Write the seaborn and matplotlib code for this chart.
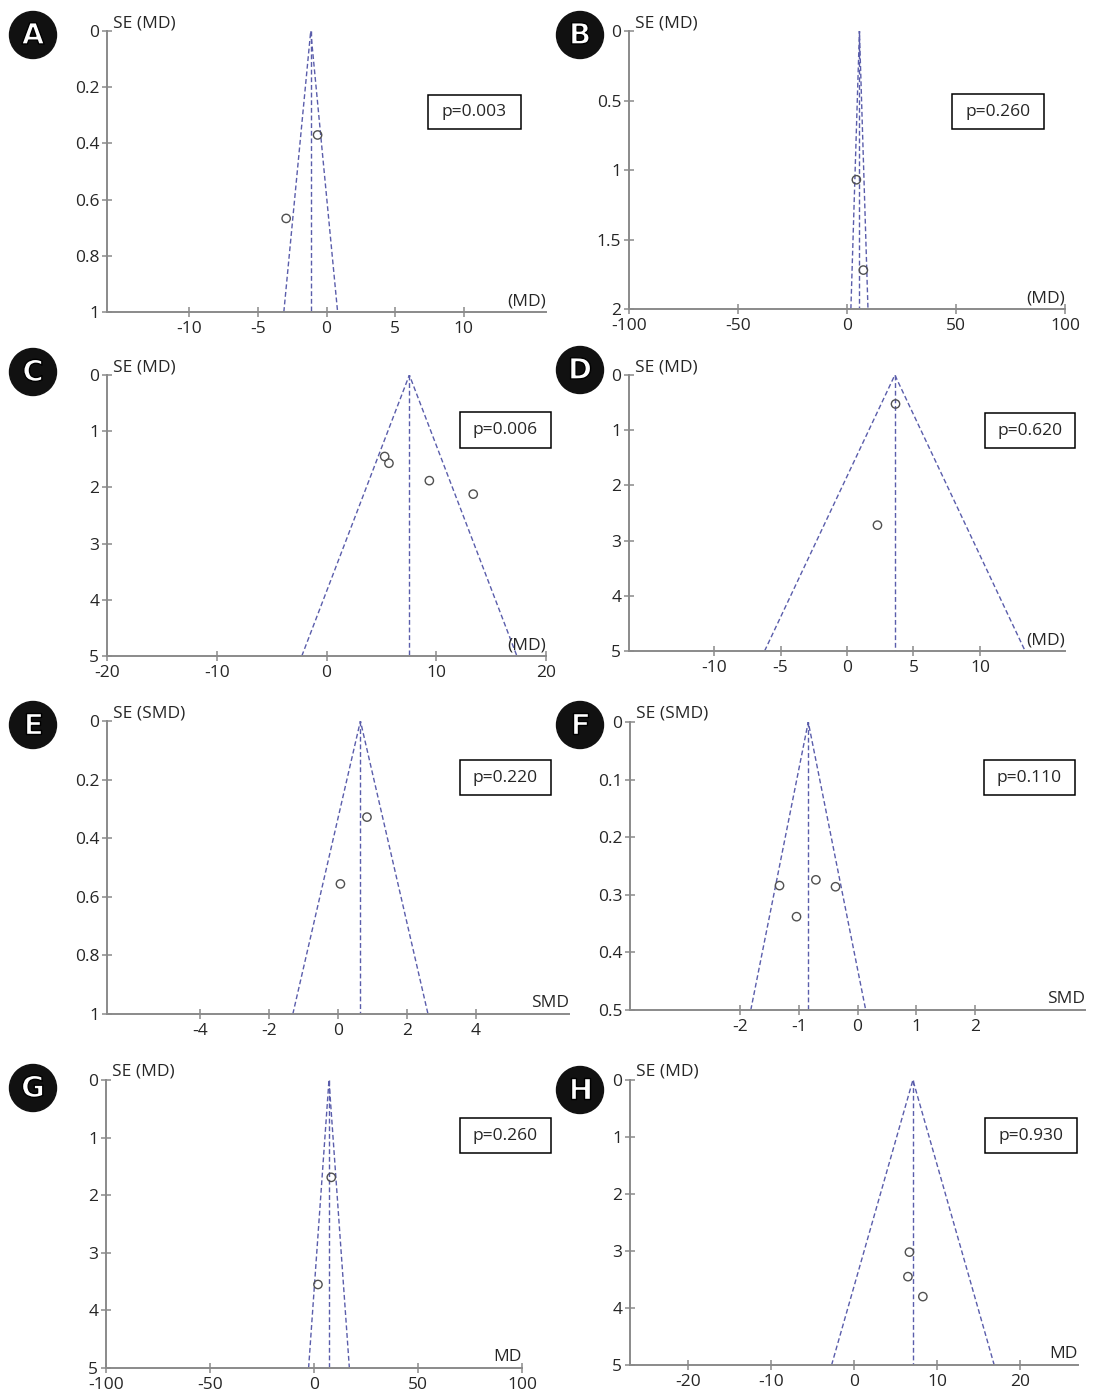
import numpy as np
import matplotlib
matplotlib.use("Agg")
import matplotlib.pyplot as plt
import matplotlib.patheffects as pe
from matplotlib.patches import Rectangle, Ellipse
import seaborn as sns

sns.set_theme(style="white")
plt.rcParams['font.family'] = ['Open Sans', 'DejaVu Sans']
plt.rcParams['axes.unicode_minus'] = False

W, H = 1093, 1396

# panel texts
panels = ['A', 'B', 'C', 'D', 'E', 'F', 'G', 'H']
y_labels = ['SE (MD)'] * 4 + ['SE (SMD)'] * 2 + ['SE (MD)'] * 2
x_labels = ['(MD)', '(MD)', '(MD)', '(MD)', 'SMD', 'SMD', 'MD', 'MD']
p_values = ['p=0.003', 'p=0.260', 'p=0.006', 'p=0.620',
            'p=0.220', 'p=0.110', 'p=0.260', 'p=0.930']

# pooled estimate and max SE of each funnel
pooled = [-1.15, 5.7, 7.55, 3.6, 0.65, -0.84, 7.2, 7.1]
se_max = [1, 2, 5, 5, 1, 0.5, 5, 5]

# study estimates (effect, SE)
effects = [
    [-0.65, -2.94],
    [4.3, 7.5],
    [5.3, 5.69, 9.37, 13.37],
    [3.65, 2.29],
    [0.84, 0.07],
    [-1.33, -0.71, -0.375, -1.04],
    [8.3, 1.9],
    [6.68, 6.5, 8.3],
]
ses = [
    [0.37, 0.667],
    [1.07, 1.72],
    [1.45, 1.57, 1.88, 2.12],
    [0.525, 2.72],
    [0.328, 0.556],
    [0.284, 0.274, 0.286, 0.338],
    [1.69, 3.55],
    [3.02, 3.45, 3.8],
]

# axis scales
x_limits = [(-16, 16), (-100, 100), (-20, 20), (-16.4, 16.4),
            (-6.7, 6.7), (-3.88, 3.88), (-100, 100), (-27, 27)]
x_ticks = [[-10, -5, 0, 5, 10], [-100, -50, 0, 50, 100], [-20, -10, 0, 10, 20],
           [-10, -5, 0, 5, 10], [-4, -2, 0, 2, 4], [-2, -1, 0, 1, 2],
           [-100, -50, 0, 50, 100], [-20, -10, 0, 10, 20]]
y_ticks = [[0, 0.2, 0.4, 0.6, 0.8, 1], [0, 0.5, 1, 1.5, 2], [0, 1, 2, 3, 4, 5],
           [0, 1, 2, 3, 4, 5], [0, 0.2, 0.4, 0.6, 0.8, 1],
           [0, 0.1, 0.2, 0.3, 0.4, 0.5], [0, 1, 2, 3, 4, 5], [0, 1, 2, 3, 4, 5]]

# layout in pixels: axes (left, right, top, bottom), p-box, badge centre
axes_px = [(107, 546, 31, 312), (629, 1065, 31, 309),
           (107, 546, 375, 656), (629, 1065, 375, 651),
           (107, 569, 721, 1014), (630, 1085, 722, 1010),
           (106, 522, 1080, 1368), (630, 1078, 1080, 1365)]
pbox_px = [(428, 521, 95, 129), (952, 1044, 94, 129),
           (460, 551, 412, 448), (985, 1075, 413, 448),
           (460, 551, 760, 795), (984, 1075, 760, 795),
           (460, 551, 1118, 1153), (985, 1077, 1118, 1153)]
badge_px = [(33, 35), (580, 35), (33, 372), (580, 370),
            (33, 725), (580, 725), (33, 1088), (580, 1090)]

funnel_color = '#5a5dab'
spine_color = '#8a8a8a'
text_color = '#262626'

fig = plt.figure(figsize=(W / 100, H / 100), dpi=100)
fig.patch.set_facecolor('white')

for i in range(8):
    l, r, t, b = axes_px[i]
    ax = fig.add_axes([l / W, 1 - b / H, (r - l) / W, (b - t) / H])
    ax.set_facecolor('white')

    c, m = pooled[i], se_max[i]
    half = 1.96 * m
    ax.plot([c - half, c, c + half], [m, 0, m], color=funnel_color,
            lw=1.0, ls=(0, (3.5, 2)))
    ax.plot([c, c], [0, m], color=funnel_color, lw=1.0, ls=(0, (3.5, 2)))

    sns.scatterplot(x=effects[i], y=ses[i], ax=ax, marker='o', s=36,
                    facecolor='none', edgecolor='#505050', linewidth=1.0,
                    zorder=3)

    ax.set_xlim(*x_limits[i])
    ax.set_ylim(m, 0)
    ax.set_xticks(x_ticks[i])
    ax.set_yticks(y_ticks[i])
    ax.set_yticklabels([f'{v:g}' for v in y_ticks[i]])
    ax.set_xticklabels([f'{v:g}' for v in x_ticks[i]])

    for side in ['top', 'right']:
        ax.spines[side].set_visible(False)
    for side in ['left', 'bottom']:
        ax.spines[side].set_color(spine_color)
        ax.spines[side].set_linewidth(1.4)
    ax.tick_params(bottom=True, left=True, direction='inout', length=7,
                   width=1.1, color=spine_color, labelsize=12.5,
                   labelcolor=text_color)
    ax.tick_params(axis='x', pad=3)
    ax.tick_params(axis='y', pad=2)
    ax.grid(False)

    ax.annotate(y_labels[i], xy=(0, 1), xycoords='axes fraction',
                xytext=(4, 0), textcoords='offset points',
                ha='left', va='bottom', fontsize=12.5, color=text_color)
    ax.annotate(x_labels[i], xy=(1, 0), xycoords='axes fraction',
                xytext=(0, 2), textcoords='offset points',
                ha='right', va='bottom', fontsize=12.5, color=text_color)

    # p-value box
    x0, x1, y0, y1 = pbox_px[i]
    fig.add_artist(Rectangle((x0 / W, 1 - y1 / H), (x1 - x0) / W, (y1 - y0) / H,
                             transform=fig.transFigure, facecolor='white',
                             edgecolor='black', lw=1.1))
    fig.text((x0 + x1) / 2 / W, 1 - (y0 + y1) / 2 / H, p_values[i],
             ha='center', va='center', fontsize=12.5, color=text_color)

    # panel badge
    bx, by = badge_px[i]
    fig.add_artist(Ellipse((bx / W, 1 - by / H), 47 / W, 47 / H,
                           transform=fig.transFigure, color='#111111'))
    fig.text(bx / W, 1 - by / H - 1 / H, panels[i], ha='center', va='center',
             fontsize=21, fontweight='bold', family='DejaVu Sans', color='white',
             path_effects=[pe.Stroke(linewidth=1.0, foreground='black')])

fig.savefig('out.png', dpi=100)
